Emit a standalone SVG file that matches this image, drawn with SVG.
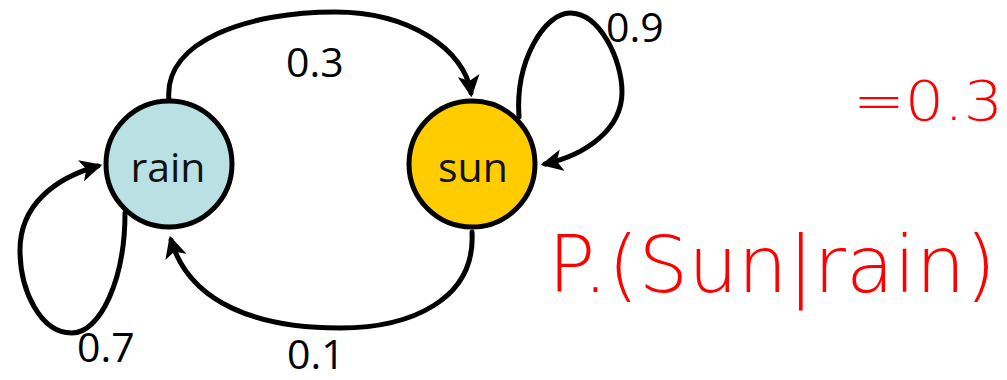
<svg xmlns="http://www.w3.org/2000/svg" width="1007" height="380" viewBox="0 0 1007 380">
<style>
.edge{fill:none;stroke:#000;stroke-width:5;stroke-linecap:round}
.node{stroke:#000;stroke-width:5}
.lbl{font-family:"Open Sans","Liberation Sans",sans-serif;font-size:41px;fill:#000}
.nlbl{font-family:"Open Sans","Liberation Sans",sans-serif;font-size:41px;fill:#111;text-anchor:middle}
.ink{font-family:"DejaVu Sans","Liberation Sans",sans-serif;fill:#ff0000;font-weight:200}
</style>
<defs>
<marker id="ah" viewBox="0 0 10 10" refX="8" refY="5" markerWidth="4.4" markerHeight="4.4" markerUnits="strokeWidth" orient="auto">
<path d="M0,0 L10,5 L0,10 L2.5,5 Z" fill="#000"/>
</marker>
</defs>
<rect width="1007" height="380" fill="#fff"/>
<g id="connectors">
<path class="edge" marker-end="url(#ah)" d="M169,100 C163,40 250,12 335,12 C410,12 465,50 471,93"/>
<path class="edge" marker-end="url(#ah)" d="M472,232 C476,300 410,328 340,328 C260,328 190,305 171,240"/>
<path class="edge" marker-end="url(#ah)" d="M125,213 C125,280 100,333 72,333 C40,333 20,290 20,250 C20,205 55,178 98,166"/>
<path class="edge" marker-end="url(#ah)" d="M519,117 C515,60 545,13 570,13 C600,13 622,60 622,92 C622,130 585,155 545,164"/>
</g>
<g id="rain">
<circle class="node" cx="169" cy="164" r="63" fill="#b9e0e3"/>
<text class="nlbl" x="168" y="182">rain</text>
</g>
<g id="sun">
<circle class="node" cx="472" cy="164" r="63" fill="#ffcc00"/>
<text class="nlbl" x="473" y="182">sun</text>
</g>
<g id="labels">
<text class="lbl" x="286" y="77">0.3</text>
<text class="lbl" x="606" y="42">0.9</text>
<text class="lbl" x="77" y="362">0.7</text>
<text class="lbl" x="287" y="369">0.1</text>
</g>
<g id="annotations">
<text class="ink" x="853" y="120" font-size="56" textLength="150" lengthAdjust="spacingAndGlyphs">=0.3</text>
<text class="ink" x="548" y="292" font-size="78" textLength="448" lengthAdjust="spacingAndGlyphs">P.(Sun|rain)</text>
</g>
</svg>
